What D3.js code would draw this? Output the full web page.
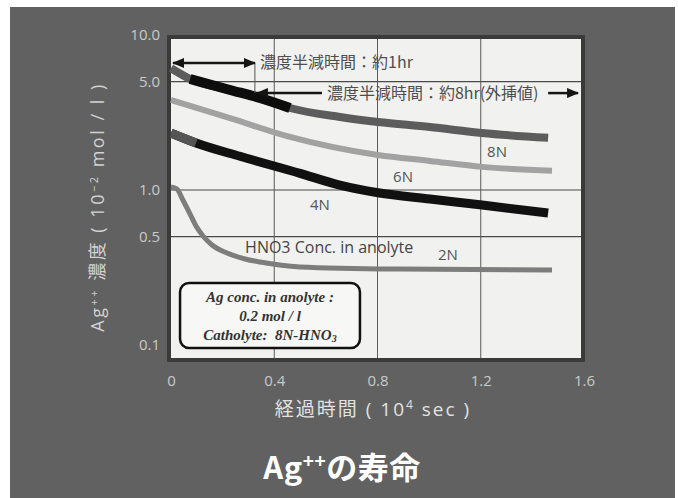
<!DOCTYPE html>
<html>
<head>
<meta charset="utf-8">
<script src="https://cdn.jsdelivr.net/npm/d3@7"></script>
<style>
  body { margin: 0; background: #ffffff; }
  svg { display: block; }
</style>
</head>
<body>
<svg id="chart" width="678" height="498"></svg>
<script>
// Ag++ lifetime vs elapsed time, per HNO3 concentration

var xTicks = [0, 0.4, 0.8, 1.2, 1.6]
var xTickLabels = ["0", "0.4", "0.8", "1.2", "1.6"]
var yTicks = [10, 5, 1, 0.5, 0.1]
var yTickLabels = ["10.0", "5.0", "1.0", "0.5", "0.1"]
var yGrid = [5, 1, 0.5]
var xGrid = [0.4, 0.8, 1.2]

var time8N = [0, 0.074, 0.229, 0.345, 0.461, 0.655, 0.802, 1.003, 1.205, 1.461]
var conc8N = [6.1, 5.2, 4.42, 3.92, 3.38, 2.96, 2.75, 2.55, 2.33, 2.17]

var time6N = [0, 0.229, 0.461, 0.802, 1.003, 1.205, 1.476]
var conc6N = [3.81, 2.91, 2.2, 1.68, 1.54, 1.41, 1.33]

var time4N = [0, 0.097, 0.267, 0.5, 0.65, 0.802, 1.003, 1.205, 1.461]
var conc4N = [2.33, 2.01, 1.65, 1.28, 1.08, 0.96, 0.875, 0.80, 0.71]

var time2N = [0, 0.023, 0.046, 0.074, 0.097, 0.124, 0.159, 0.217, 0.287, 0.345, 0.5, 0.887, 1.476]
var conc2N = [1.046, 1.015, 0.862, 0.70, 0.586, 0.505, 0.442, 0.392, 0.359, 0.343, 0.319, 0.309, 0.305]

var seriesLabels = ["8N", "6N", "4N", "2N"]
var labelTime = [1.263, 0.899, 0.577, 1.073]
var labelConc = [1.76, 1.21, 0.80, 0.381]

var svg = d3.select("#chart")

var plot = { left: 171, right: 581, top: 39, bottom: 358 }

var x = d3.scaleLinear().domain([0, 1.6]).range([171, 584])
var y = d3.scaleLog().domain([0.1, 10]).range([345, 35])

// grey panel + plot frame
svg.append("rect")
  .attr("x", 10).attr("y", 7).attr("width", 665).attr("height", 491)
  .attr("fill", "#616161")

svg.append("rect")
  .attr("x", plot.left - 4).attr("y", plot.top - 4)
  .attr("width", plot.right - plot.left + 8).attr("height", plot.bottom - plot.top + 8)
  .attr("fill", "#3a3a3a")

svg.append("rect")
  .attr("x", plot.left).attr("y", plot.top)
  .attr("width", plot.right - plot.left).attr("height", plot.bottom - plot.top)
  .attr("fill", "#f1f1ef")

// grid
var grid = svg.append("g").attr("class", "grid")

grid.selectAll(".hgrid")
  .data(yGrid)
  .enter()
  .append("line")
  .attr("x1", plot.left).attr("x2", plot.right)
  .attr("y1", function (d) { return y(d) })
  .attr("y2", function (d) { return y(d) })
  .attr("stroke", "#4a4a4a")
  .attr("stroke-width", 1.2)

grid.selectAll(".vgrid")
  .data(xGrid)
  .enter()
  .append("line")
  .attr("y1", plot.top).attr("y2", plot.bottom)
  .attr("x1", function (d) { return x(d) })
  .attr("x2", function (d) { return x(d) })
  .attr("stroke", "#5a5a5a")
  .attr("stroke-width", 1)

// axes (labels only)
var yAxis = d3.axisLeft(y)
  .tickValues(yTicks)
  .tickFormat(function (d, i) { return yTickLabels[i] })
  .tickSize(0)
  .tickPadding(7)

var xAxis = d3.axisBottom(x)
  .tickValues(xTicks)
  .tickFormat(function (d, i) { return xTickLabels[i] })
  .tickSize(0)
  .tickPadding(13)

var gy = svg.append("g").attr("transform", "translate(" + (plot.left - 4) + ",0)").call(yAxis)
var gx = svg.append("g").attr("transform", "translate(0," + (plot.bottom + 4) + ")").call(xAxis)

svg.selectAll(".domain").remove()
svg.selectAll(".tick text")
  .attr("fill", "#c9c9c9")
  .style("font-family", "'Open Sans', sans-serif")
  .style("font-size", "15px")

// curves
var line = d3.line()
  .x(function (d) { return x(d[0]) })
  .y(function (d) { return y(d[1]) })
  .curve(d3.curveMonotoneX)

function pts(t, c) { return t.map(function (d, i) { return [d, c[i]] }) }

var curves = svg.append("g").attr("class", "curves")

curves.append("path")
  .attr("d", line(pts(time2N, conc2N)))
  .attr("fill", "none").attr("stroke", "#7d7d7d").attr("stroke-width", 5)

curves.append("path")
  .attr("d", line(pts(time4N, conc4N)))
  .attr("fill", "none").attr("stroke", "#111111").attr("stroke-width", 9)

curves.append("path")
  .attr("d", line(pts(time4N, conc4N).filter(function (d) { return d[0] <= 0.1 })))
  .attr("fill", "none").attr("stroke", "#555555").attr("stroke-width", 9)

curves.append("path")
  .attr("d", line(pts(time6N, conc6N)))
  .attr("fill", "none").attr("stroke", "#a2a2a2").attr("stroke-width", 6)

curves.append("path")
  .attr("d", line(pts(time8N, conc8N)))
  .attr("fill", "none").attr("stroke", "#5c5c5c").attr("stroke-width", 8)

curves.append("path")
  .attr("d", line(pts(time8N, conc8N).filter(function (d) { return d[0] > 0.07 && d[0] < 0.47 })))
  .attr("fill", "none").attr("stroke", "#0d0d0d").attr("stroke-width", 10)

// series labels
svg.append("g").selectAll("text")
  .data(seriesLabels)
  .enter()
  .append("text")
  .attr("x", function (d, i) { return x(labelTime[i]) })
  .attr("y", function (d, i) { return y(labelConc[i]) + 5 })
  .attr("text-anchor", "middle")
  .attr("fill", "#555")
  .style("font-family", "'Open Sans', sans-serif")
  .style("font-size", "15px")
  .text(function (d) { return d })

svg.append("text")
  .attr("x", x(0.287)).attr("y", y(0.422) + 5)
  .attr("fill", "#444")
  .style("font-family", "'Open Sans', sans-serif")
  .style("font-size", "16px")
  .text("HNO3 Conc. in anolyte")

// half-life arrows
var defs = svg.append("defs")
defs.append("marker")
  .attr("id", "head")
  .attr("viewBox", "0 0 12 10")
  .attr("refX", 11).attr("refY", 5)
  .attr("markerWidth", 12).attr("markerHeight", 10)
  .attr("markerUnits", "userSpaceOnUse")
  .attr("orient", "auto-start-reverse")
  .append("path")
  .attr("d", "M0,0 L12,5 L0,10 z")
  .attr("fill", "#151515")

var ann = svg.append("g").attr("class", "annotations")

ann.append("line")
  .attr("x1", x(0.325)).attr("x2", x(0.325))
  .attr("y1", y(6.6)).attr("y2", y(4.22))
  .attr("stroke", "#555").attr("stroke-width", 1)

ann.append("line")
  .attr("x1", x(0.008)).attr("x2", x(0.325))
  .attr("y1", y(6.6)).attr("y2", y(6.6))
  .attr("stroke", "#151515").attr("stroke-width", 2.5)
  .attr("marker-start", "url(#head)").attr("marker-end", "url(#head)")

ann.append("text")
  .attr("x", x(0.345)).attr("y", y(6.6) + 5.5)
  .attr("fill", "#4e4e4e")
  .style("font-family", "'Noto Sans CJK JP', sans-serif")
  .style("font-size", "16px")
  .text("濃度半減時間：約1hr")

ann.append("line")
  .attr("x1", x(0.333)).attr("x2", x(0.585))
  .attr("y1", y(4.22)).attr("y2", y(4.22))
  .attr("stroke", "#151515").attr("stroke-width", 2.5)
  .attr("marker-start", "url(#head)")

ann.append("text")
  .attr("x", x(0.604)).attr("y", y(4.22) + 5.5)
  .attr("fill", "#4e4e4e")
  .style("font-family", "'Noto Sans CJK JP', sans-serif")
  .style("font-size", "16px")
  .text("濃度半減時間：約8hr(外挿値)")

ann.append("line")
  .attr("x1", x(1.461)).attr("x2", x(1.577))
  .attr("y1", y(4.22)).attr("y2", y(4.22))
  .attr("stroke", "#151515").attr("stroke-width", 2.5)
  .attr("marker-end", "url(#head)")

// condition box
var bx0 = x(0.035), bx1 = x(0.732), by0 = y(0.251), by1 = y(0.0957)
var box = svg.append("g")
box.append("rect")
  .attr("x", bx0).attr("y", by0)
  .attr("width", bx1 - bx0).attr("height", by1 - by0)
  .attr("rx", 9)
  .attr("fill", "#f7f7f5").attr("stroke", "#111").attr("stroke-width", 2.5)

var boxText = box.append("text")
  .attr("text-anchor", "middle")
  .attr("fill", "#333")
  .style("font-family", "'Liberation Serif', serif")
  .style("font-style", "italic")
  .style("font-weight", "bold")
  .style("font-size", "15px")

boxText.append("tspan").attr("x", (bx0 + bx1) / 2).attr("y", by0 + 19).text("Ag conc. in anolyte :")
boxText.append("tspan").attr("x", (bx0 + bx1) / 2).attr("y", by0 + 38).text("0.2 mol / l")
var l3 = boxText.append("tspan").attr("x", (bx0 + bx1) / 2).attr("y", by0 + 57)
l3.append("tspan").text("Catholyte:\u00a0\u00a08N-HNO")
l3.append("tspan").attr("dy", 2).style("font-size", "10px").text("3")

// axis titles
var yt = svg.append("text")
  .attr("transform", "translate(104,207) rotate(-90)")
  .attr("text-anchor", "middle")
  .attr("fill", "#d2d2d2")
  .style("font-family", "'Open Sans', 'Noto Sans CJK JP', sans-serif")
  .style("font-size", "18px")
  .style("letter-spacing", "2.5px")
yt.append("tspan").text("Ag")
yt.append("tspan").attr("dy", -6).style("font-size", "11px").text("++")
yt.append("tspan").attr("dy", 6).text(" 濃度 ( 10")
yt.append("tspan").attr("dy", -6).style("font-size", "11px").text("\u22122")
yt.append("tspan").attr("dy", 6).text(" mol / l )")

var xt = svg.append("text")
  .attr("x", 373).attr("y", 416)
  .attr("text-anchor", "middle")
  .attr("fill", "#e2e2e2")
  .style("font-family", "'Open Sans', 'Noto Sans CJK JP', sans-serif")
  .style("font-size", "19px")
  .style("letter-spacing", "2px")
xt.append("tspan").text("経過時間 ( 10")
xt.append("tspan").attr("dy", -7).style("font-size", "12px").text("4")
xt.append("tspan").attr("dy", 7).text(" sec )")

// title
var title = svg.append("text")
  .attr("x", 342).attr("y", 479)
  .attr("text-anchor", "middle")
  .attr("fill", "#ffffff")
  .style("font-family", "'Noto Sans CJK JP', sans-serif")
  .style("font-weight", "bold")
  .style("font-size", "31px")
  .style("letter-spacing", "0.5px")
title.append("tspan").text("Ag")
title.append("tspan").attr("dy", -11).style("font-size", "19px").text("++")
title.append("tspan").attr("dy", 11).text("の寿命")
</script>
</body>
</html>
